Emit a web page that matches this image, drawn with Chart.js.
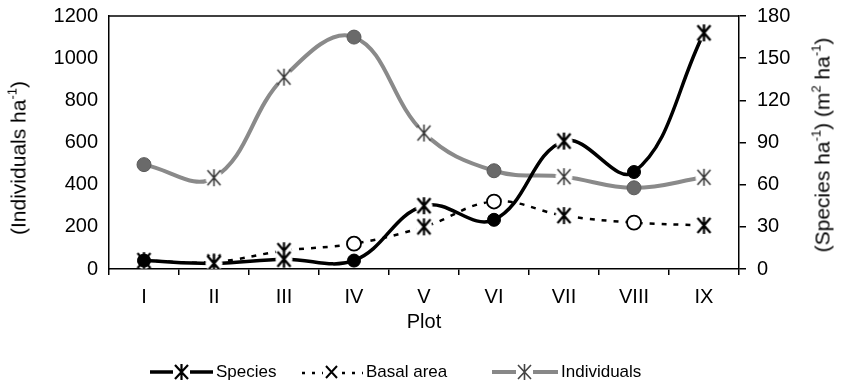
<!DOCTYPE html>
<html>
<head>
<meta charset="utf-8">
<script src="https://cdn.jsdelivr.net/npm/chart.js@4/dist/chart.umd.min.js"></script>
<style>
  html, body { margin:0; padding:0; background:#fff; }
  #wrap { position:relative; width:842px; height:388px; font-family:'Liberation Sans', Arial, sans-serif; color:#000; }
  canvas { position:absolute; left:0; top:0; }
  .ytitle { position:absolute; white-space:nowrap; font-size:21px; transform:translate(-50%,-50%) rotate(-90deg); line-height:1; }
  .ytitle sup { font-size:13px; vertical-align:9px; line-height:0; }
  .leg { position:absolute; top:361px; height:22px; display:flex; align-items:center; font-size:17px; white-space:nowrap; }
  .leg svg { margin-right:3px; }
</style>
</head>
<body>
<div id="wrap">
  <canvas id="c" width="842" height="388"></canvas>
  <div class="ytitle" style="left:18px; top:158px;">(Individuals ha<sup>-1</sup>)</div>
  <div class="ytitle" style="left:822px; top:145px;">(Species ha<sup>-1</sup>) (m<sup>2</sup> ha<sup>-1</sup>)</div>
  <div class="leg" style="left:150px;">
    <svg width="63" height="20"><line x1="0" y1="10" x2="63" y2="10" stroke="#000" stroke-width="3.5"/><rect x="23" y="2" width="17" height="16" fill="#fff"/><path d="M25 3 L38 17 M38 3 L25 17 M31.5 2 L31.5 18" stroke="#000" stroke-width="2.2"/></svg><span>Species</span>
  </div>
  <div class="leg" style="left:300px;">
    <svg width="63" height="20"><line x1="2" y1="11" x2="63" y2="11" stroke="#000" stroke-width="2.5" stroke-dasharray="3,7"/><rect x="23" y="2" width="17" height="16" fill="#fff"/><path d="M26 4 L37 16 M37 4 L26 16" stroke="#000" stroke-width="2"/></svg><span>Basal area</span>
  </div>
  <div class="leg" style="left:492px;">
    <svg width="66" height="20"><line x1="0" y1="10" x2="66" y2="10" stroke="#888" stroke-width="4"/><rect x="24" y="2" width="17" height="16" fill="#fff"/><path d="M26 3 L39 17 M39 3 L26 17 M32.5 2 L32.5 18" stroke="#444" stroke-width="1.6"/></svg><span>Individuals</span>
  </div>
</div>
<script>
// ---- data ----
const categories = ['I', 'II', 'III', 'IV', 'V', 'VI', 'VII', 'VIII', 'IX'];
const species    = [6, 4, 7, 6, 45, 35, 91, 69, 168];        // Species ha-1 (right axis)
const basalArea  = [6, 5, 13, 18, 30, 48, 38, 33, 31];       // m2 ha-1 (right axis)
const individuals = [495, 433, 910, 1100, 645, 466, 438, 385, 435]; // Individuals ha-1 (left axis)
const leftTicks  = [0, 200, 400, 600, 800, 1000, 1200];
const rightTicks = [0, 30, 60, 90, 120, 150, 180];

// ---- marker styling ----
function makeStar(color, lw, w, h, vertical) {
  const c = document.createElement('canvas');
  c.width = w + 6; c.height = h + 4;
  const ctx = c.getContext('2d');
  ctx.fillStyle = '#fff';
  ctx.beginPath(); ctx.arc(c.width/2, c.height/2, Math.max(w, h)/2 + 1, 0, Math.PI*2); ctx.fill();
  ctx.strokeStyle = color; ctx.lineWidth = lw; ctx.lineCap = 'butt';
  const x0 = 3, y0 = 2, x1 = 3 + w, y1 = 2 + h;
  ctx.beginPath();
  ctx.moveTo(x0, y0); ctx.lineTo(x1, y1);
  ctx.moveTo(x1, y0); ctx.lineTo(x0, y1);
  if (vertical) { ctx.moveTo(c.width/2, y0 - 1); ctx.lineTo(c.width/2, y1 + 1); }
  ctx.stroke();
  return c;
}
const starSpecies = makeStar('#000', 2.4, 13, 15, true);
const starBasal = makeStar('#000', 2.2, 13, 15, true);
const starInd = makeStar('#333', 1.5, 13, 15, true);

const S = 'star', C = 'circle';
const speciesMarks = [C, S, S, C, S, C, S, C, S];
const basalMarks   = [S, S, S, C, S, C, S, C, S];
const indMarks     = [C, S, S, C, S, C, S, C, S];

const frame = {
  id: 'frame',
  afterDraw(chart) {
    const a = chart.chartArea, ctx = chart.ctx;
    ctx.save();
    ctx.strokeStyle = '#000'; ctx.lineWidth = 1.5;
    ctx.beginPath(); ctx.moveTo(a.left, a.top); ctx.lineTo(a.right, a.top); ctx.stroke();
    ctx.restore();
  }
};

Chart.defaults.font.family = "'Liberation Sans', Arial, sans-serif";
Chart.defaults.color = '#000';

function fixY(width) {
  return s => { s.width = width; s.paddingTop = 0; s.paddingBottom = 0; };
}

new Chart(document.getElementById('c'), {
  type: 'line',
  data: {
    labels: categories,
    datasets: [
      {
        label: 'Species', data: species, yAxisID: 'y1',
        borderColor: '#000', borderWidth: 3.5, tension: 0.4,
        pointStyle: speciesMarks.map(m => m === S ? starSpecies : 'circle'),
        pointRadius: 6.5, pointBackgroundColor: '#000', pointBorderColor: '#000', pointBorderWidth: 1,
        order: 0
      },
      {
        label: 'Basal area', data: basalArea, yAxisID: 'y1',
        borderColor: '#000', borderWidth: 2.5, borderDash: [5, 7], tension: 0.4,
        pointStyle: basalMarks.map(m => m === S ? starBasal : 'circle'),
        pointRadius: 7, pointBackgroundColor: '#fff', pointBorderColor: '#000', pointBorderWidth: 1.8,
        order: 1
      },
      {
        label: 'Individuals', data: individuals, yAxisID: 'y',
        borderColor: '#8a8a8a', borderWidth: 4, tension: 0.4,
        pointStyle: indMarks.map(m => m === S ? starInd : 'circle'),
        pointRadius: 7, pointBackgroundColor: '#6a6a6a', pointBorderColor: '#5a5a5a', pointBorderWidth: 1,
        order: 2
      }
    ]
  },
  options: {
    responsive: false, animation: false, devicePixelRatio: 1,
    layout: { padding: { top: 16, bottom: 40, left: 0, right: 0 } },
    plugins: { legend: { display: false }, tooltip: { enabled: false } },
    scales: {
      x: {
        offset: true,
        grid: { display: true, offset: true, drawOnChartArea: false, drawTicks: true, tickLength: 6, color: '#000', lineWidth: 1.5 },
        border: { display: true, color: '#000', width: 1.5 },
        ticks: { font: { size: 20 }, padding: 10, maxRotation: 0 },
        title: { display: true, text: 'Plot', font: { size: 20 }, padding: { top: 0, bottom: 14 } },
        afterFit(s) { s.height = 79; s.paddingLeft = 0; s.paddingRight = 0; }
      },
      y: {
        position: 'left', min: 0, max: 1200,
        afterBuildTicks(s) { s.ticks = leftTicks.map(v => ({ value: v })); },
        grid: { display: false, drawTicks: false },
        border: { display: true, color: '#000', width: 1.5 },
        ticks: { font: { size: 20 }, padding: 11, callback: v => String(v) },
        afterFit: fixY(109)
      },
      y1: {
        position: 'right', min: 0, max: 180,
        afterBuildTicks(s) { s.ticks = rightTicks.map(v => ({ value: v })); },
        grid: { display: true, drawOnChartArea: false, drawTicks: true, tickLength: 7, color: '#000', lineWidth: 1.5 },
        border: { display: true, color: '#000', width: 1.5 },
        ticks: { font: { size: 20 }, padding: 11, callback: v => String(v) },
        afterFit: fixY(103)
      }
    }
  },
  plugins: [frame]
});
</script>
</body>
</html>
